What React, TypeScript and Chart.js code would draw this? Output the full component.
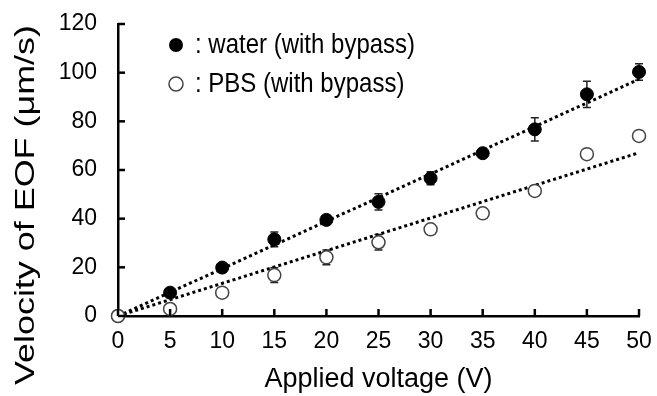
import React, { useEffect, useRef } from 'react';
import { Chart, registerables } from 'chart.js';

Chart.register(...registerables);

// ---- data ----
const voltages = [0, 5, 10, 15, 20, 25, 30, 35, 40, 45, 50];
const waterVel = [0, 9.6, 19.9, 31.5, 39.5, 46.9, 56.6, 66.9, 76.7, 91.1, 100.3];
const waterErr = [0, 1.0, 1.0, 3.0, 1.2, 3.3, 2.7, 1.0, 4.8, 5.4, 3.4];
const pbsVel = [0, 2.9, 9.6, 16.8, 24.1, 30.3, 35.6, 42.2, 51.4, 66.5, 74.0];
const pbsErr = [0, 0.8, 0.8, 3.0, 3.0, 3.2, 1.0, 2.0, 1.5, 0.8, 0.8];
const fitX = [0, 50];
const waterFit = [0, 97.3];
const pbsFit = [0, 67.1];
const legendLabels = [': water (with bypass)', ': PBS (with bypass)'];
const xTitle = 'Applied voltage (V)';
const yTitle = 'Velocity of EOF (\u03bcm/s)';

const FONT = "'Liberation Sans', Arial, Helvetica, sans-serif";

const errorLists = [waterErr, pbsErr];

const customPlugin = {
  id: 'customDecor',
  beforeDatasetsDraw(chart: any) {
    const { ctx, scales } = chart;
    const xs = scales.x;
    const ys = scales.y;
    ctx.save();
    ctx.strokeStyle = '#222';
    ctx.lineWidth = 1.5;
    [waterVel, pbsVel].forEach((vals, d) => {
      const errs = errorLists[d];
      vals.forEach((v, i) => {
        const e = errs[i];
        if (!e) return;
        const px = xs.getPixelForValue(voltages[i]);
        const top = ys.getPixelForValue(v + e);
        const bot = ys.getPixelForValue(v - e);
        ctx.beginPath();
        ctx.moveTo(px, top);
        ctx.lineTo(px, bot);
        ctx.moveTo(px - 4, top);
        ctx.lineTo(px + 4, top);
        ctx.moveTo(px - 4, bot);
        ctx.lineTo(px + 4, bot);
        ctx.stroke();
      });
    });
    ctx.restore();
  },
  afterDraw(chart: any) {
    const { ctx, scales, chartArea } = chart;
    const xs = scales.x;
    const ys = scales.y;
    ctx.save();
    // inside tick marks
    ctx.strokeStyle = '#000';
    ctx.lineWidth = 2.5;
    xs.ticks.forEach((t: any) => {
      const px = xs.getPixelForValue(t.value);
      ctx.beginPath();
      ctx.moveTo(px, chartArea.bottom);
      ctx.lineTo(px, chartArea.bottom - 7);
      ctx.stroke();
    });
    ys.ticks.forEach((t: any) => {
      const py = ys.getPixelForValue(t.value);
      ctx.beginPath();
      ctx.moveTo(chartArea.left, py);
      ctx.lineTo(chartArea.left + 7, py);
      ctx.stroke();
    });
    // legend
    const lx = 176;
    const ly = [45, 84];
    ctx.font = `24px ${FONT}`;
    ctx.textBaseline = 'middle';
    ctx.textAlign = 'left';
    ly.forEach((y, i) => {
      ctx.beginPath();
      ctx.arc(lx, y, 7, 0, Math.PI * 2);
      if (i === 0) {
        ctx.fillStyle = '#000';
        ctx.fill();
      } else {
        ctx.fillStyle = '#fff';
        ctx.fill();
        ctx.lineWidth = 1.5;
        ctx.strokeStyle = '#444';
        ctx.stroke();
      }
      ctx.save();
      ctx.translate(195, y + 1);
      ctx.scale(1, 1.12);
      ctx.fillStyle = '#000';
      ctx.fillText(legendLabels[i], 0, 0);
      ctx.restore();
    });
    // y title (stretched along its length as in the reference)
    ctx.save();
    ctx.translate(27, 205);
    ctx.rotate(-Math.PI / 2);
    ctx.scale(1.33, 1);
    ctx.font = `27px ${FONT}`;
    ctx.textAlign = 'center';
    ctx.textBaseline = 'middle';
    ctx.fillStyle = '#000';
    ctx.fillText(yTitle, 0, 0);
    ctx.restore();
    ctx.restore();
  },
};

export default function App() {
  const ref = useRef<HTMLCanvasElement | null>(null);
  useEffect(() => {
    document.body.style.margin = '0';
    if (!ref.current) return;
    Chart.defaults.font.family = FONT;
    const chart = new Chart(ref.current, {
      type: 'scatter',
      data: {
        datasets: [
          {
            label: 'water (with bypass)',
            data: voltages.map((x, i) => ({ x, y: waterVel[i] })),
            pointRadius: 6.5,
            pointHoverRadius: 6.5,
            pointBackgroundColor: '#000',
            pointBorderColor: '#000',
            pointBorderWidth: 1,
            showLine: false,
            clip: false,
            order: 1,
          },
          {
            label: 'PBS (with bypass)',
            data: voltages.map((x, i) => ({ x, y: pbsVel[i] })),
            pointRadius: 6.5,
            pointHoverRadius: 6.5,
            pointBackgroundColor: '#fff',
            pointBorderColor: '#444',
            pointBorderWidth: 1.5,
            showLine: false,
            clip: false,
            order: 0,
          },
          {
            label: 'water fit',
            data: fitX.map((x, i) => ({ x, y: waterFit[i] })),
            showLine: true,
            pointRadius: 0,
            borderColor: '#000',
            borderWidth: 3,
            borderDash: [3, 3],
            clip: false,
            order: 2,
          },
          {
            label: 'PBS fit',
            data: fitX.map((x, i) => ({ x, y: pbsFit[i] })),
            showLine: true,
            pointRadius: 0,
            borderColor: '#000',
            borderWidth: 3,
            borderDash: [3, 3],
            clip: false,
            order: 2,
          },
        ],
      },
      options: {
        responsive: false,
        animation: false,
        devicePixelRatio: 1,
        layout: { padding: { top: 24, right: 18, left: 0, bottom: 0 } },
        plugins: {
          legend: { display: false },
          tooltip: { enabled: false },
        },
        scales: {
          x: {
            type: 'linear',
            min: 0,
            max: 50,
            grid: { display: false, drawTicks: false },
            border: { display: true, color: '#000', width: 2.5 },
            ticks: {
              stepSize: 5,
              padding: 12,
              color: '#000',
              font: { size: 23, family: FONT },
              maxRotation: 0,
            },
            title: {
              display: true,
              text: xTitle,
              color: '#000',
              font: { size: 27, family: FONT },
              padding: { top: 0, bottom: 0 },
            },
            afterFit: (s: any) => {
              s.height = 80;
              s.paddingLeft = 0;
              s.paddingRight = 0;
            },
          },
          y: {
            type: 'linear',
            min: 0,
            max: 120,
            grid: { display: false, drawTicks: false },
            border: { display: true, color: '#000', width: 2.5 },
            ticks: {
              stepSize: 20,
              padding: 21,
              color: '#000',
              font: { size: 23, family: FONT },
            },
            afterFit: (s: any) => {
              s.width = 118;
              s.paddingTop = 0;
              s.paddingBottom = 0;
            },
          },
        },
      },
      plugins: [customPlugin],
    });
    return () => chart.destroy();
  }, []);
  return (
    <div style={{ width: 657, height: 396 }}>
      <canvas ref={ref} width={657} height={396} style={{ display: 'block' }} />
    </div>
  );
}
